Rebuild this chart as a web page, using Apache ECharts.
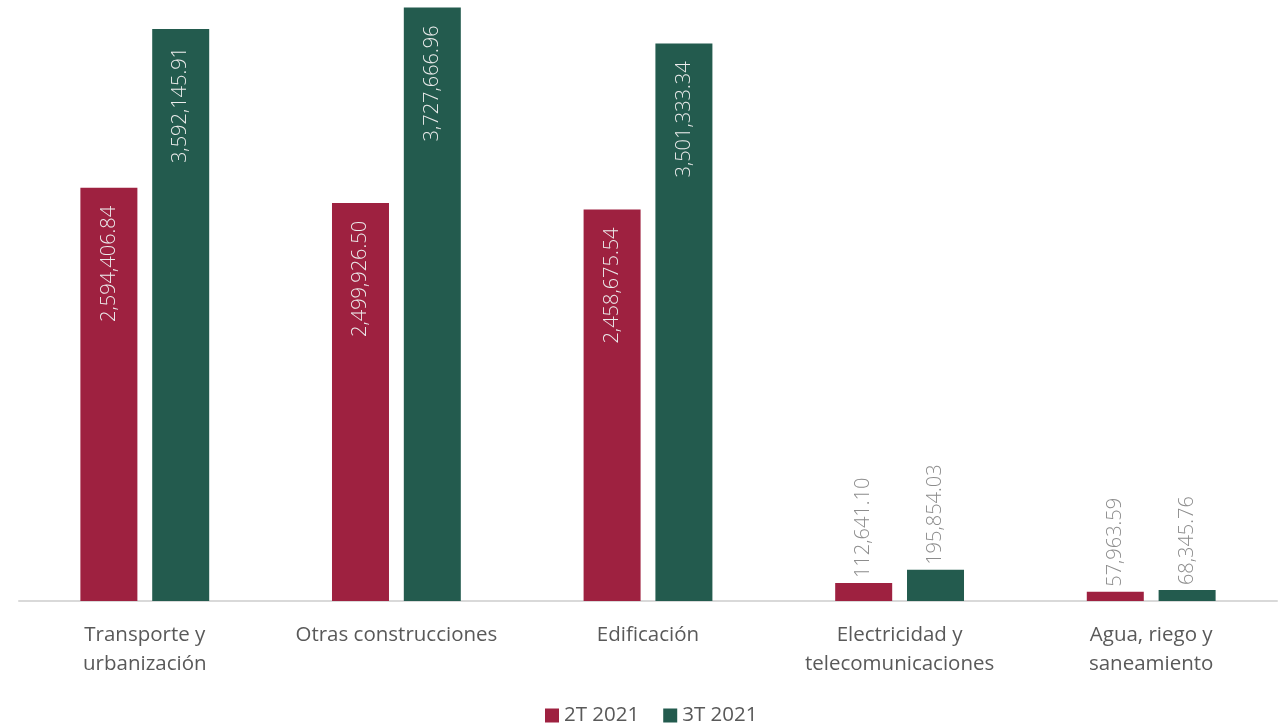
<!DOCTYPE html>
<html>
<head>
<meta charset="utf-8">
<script src="https://cdn.jsdelivr.net/npm/echarts@6/dist/echarts.min.js"></script>
<style>
html,body{margin:0;padding:0;background:#fff;}
#c{width:1283px;height:726px;}
</style>
</head>
<body>
<div id="c"></div>
<script>
const categories = ['Transporte y\nurbanización', 'Otras construcciones', 'Edificación', 'Electricidad y\ntelecomunicaciones', 'Agua, riego y\nsaneamiento'];
const seriesNames = ['2T 2021', '3T 2021'];
const values2T = [2594406.84, 2499926.50, 2458675.54, 112641.10, 57963.59];
const values3T = [3592145.91, 3727666.96, 3501333.34, 195854.03, 68345.76];
const colors = ['#9E2140', '#235B4E'];

const FONT = 'Open Sans';
const fmt = v => v.toLocaleString('en-US', {minimumFractionDigits: 2, maximumFractionDigits: 2});

function mkData(vals) {
  return vals.map(v => {
    const inside = v > 1000000;
    return {
      value: v,
      label: inside ? {
        position: 'insideTop', rotate: 90, align: 'right', verticalAlign: 'middle',
        distance: 18, color: '#ececec'
      } : {
        position: 'top', rotate: 90, align: 'left', verticalAlign: 'middle',
        distance: 5, color: '#8c8c8c'
      }
    };
  });
}

const chart = echarts.init(document.getElementById('c'));
chart.setOption({
  animation: false,
  color: colors,
  textStyle: {fontFamily: FONT},
  grid: {left: 19, right: 6, top: 0, bottom: 125, containLabel: false},
  legend: {
    bottom: -5, left: 540, itemWidth: 14, itemHeight: 14, itemGap: 24,
    icon: 'rect',
    textStyle: {fontSize: 20.5, color: '#595959', fontFamily: FONT},
    data: seriesNames
  },
  xAxis: {
    type: 'category', data: categories,
    axisLine: {lineStyle: {color: '#d9d9d9', width: 2}},
    axisTick: {show: false},
    axisLabel: {fontSize: 20.5, color: '#595959', lineHeight: 29, margin: 20, interval: 0, fontFamily: FONT}
  },
  yAxis: {type: 'value', min: 0, max: 3774000, show: false, splitLine: {show: false}},
  series: [
    {name: seriesNames[0], type: 'bar', data: mkData(values2T), barWidth: 57, barGap: '26%',
     label: {show: true, fontSize: 20, fontWeight: 300, fontFamily: FONT, formatter: p => fmt(p.value)}},
    {name: seriesNames[1], type: 'bar', data: mkData(values3T), barWidth: 57, barGap: '26%',
     label: {show: true, fontSize: 20, fontWeight: 300, fontFamily: FONT, formatter: p => fmt(p.value)}}
  ]
});
</script>
</body>
</html>
